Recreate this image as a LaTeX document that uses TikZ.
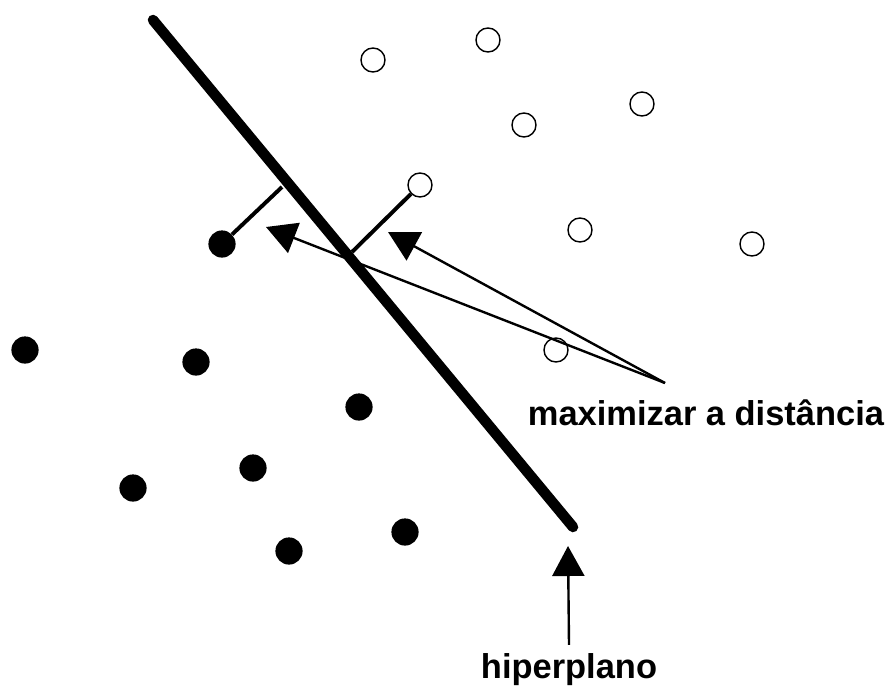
\documentclass[tikz,border=0pt]{standalone}
\usepackage{fontspec}
\setmainfont{Liberation Sans}
\usetikzlibrary{arrows.meta}
\begin{document}
\begin{tikzpicture}[x=0.025cm, y=-0.025cm,
  openpt/.style={circle, draw, line width=1pt, fill=white, minimum size=0.6cm, inner sep=0pt},
  fullpt/.style={circle, fill=black, minimum size=0.68cm, inner sep=0pt},
  margin/.style={line width=2.8pt},
  pointer/.style={line width=1.7pt, -{Triangle[length=0.75cm, width=0.8cm]}},
  lbl/.style={font=\fontsize{24.5}{28}\selectfont\bfseries}]
\useasboundingbox (0,0) rectangle (888,692);

% hyperplane
\coordinate (h0) at (153,20);
\coordinate (h1) at (573,527);
\draw[line width=7.5pt, line cap=round] (h0) -- (h1);

% margin feet on the hyperplane
\coordinate (fa) at (282,187);
\coordinate (fb) at (352,252);

% class 1 (open)
\foreach \n/\x/\y in {o1/373/60, o2/488/40, o3/524/125, o4/642/104,
                      o5/420/185, o6/580/230, o7/752/244, o8/556/350}
  \node[openpt] (\n) at (\x,\y) {};

% class 2 (filled)
\foreach \n/\x/\y in {f1/222/244, f2/25/350, f3/196/362, f4/359/407,
                      f5/253/468, f6/133/488, f7/289/551, f8/405/532}
  \node[fullpt] (\n) at (\x,\y) {};

% distances to the support points
\draw[margin] (f1) -- (fa);
\draw[margin] (o5) -- (fb);

% labels and pointers
\node[lbl] (dist) at (706,413) {maximizar a distância};
\node[lbl] (hip) at (569,670) {hiperplano};
\coordinate (tail) at (665,383);
\coordinate (ta) at (266,227);
\coordinate (tb) at (388,232);
\draw[pointer] (tail) -- (ta);
\draw[pointer] (tail) -- (tb);
\draw[pointer] (hip.north) ++(0,-4) coordinate (hb) -- (568,546) coordinate (ht);
\end{tikzpicture}
\end{document}
